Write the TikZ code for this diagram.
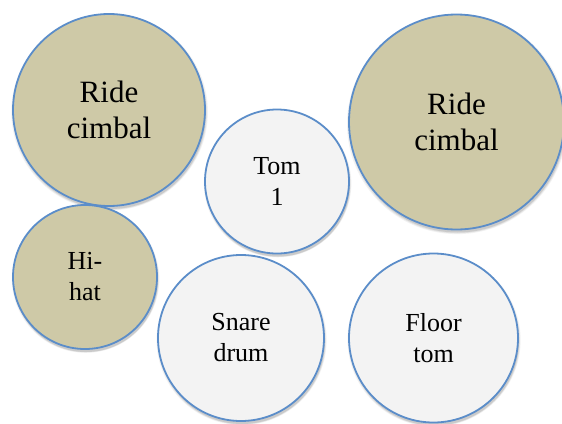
\documentclass[tikz,border=0pt]{standalone}
\usepackage{fontspec}
\setmainfont{Liberation Serif}
\usetikzlibrary{shadows}
\definecolor{cymbalfill}{HTML}{CEC9A7}
\definecolor{drumfill}{HTML}{F3F3F3}
\definecolor{rimblue}{HTML}{5B8DC9}
\tikzset{
  softshadow/.style={
    general shadow={fill=black, opacity=0.10, shadow xshift=1pt, shadow yshift=-3pt},
    general shadow={fill=black, opacity=0.07, shadow xshift=0.8pt, shadow yshift=-2.5pt, shadow scale=1.012},
    general shadow={fill=black, opacity=0.05, shadow xshift=0.6pt, shadow yshift=-2pt, shadow scale=1.024}
  },
  kit/.style={circle, draw=rimblue, line width=1.8pt, inner sep=0pt, align=center, softshadow},
  bigtext/.style={font=\fontsize{31}{36}\selectfont},
  smalltext/.style={font=\fontsize{26}{31}\selectfont},
  cymbal/.style={kit, fill=cymbalfill},
  drum/.style={kit, fill=drumfill}
}
\begin{document}
\begin{tikzpicture}[x=1pt, y=-1pt]
  \useasboundingbox (0,0) rectangle (562,423);
  % cymbals
  \node[cymbal, bigtext, minimum size=192pt] (rideL) at (109,110) {Ride\\cimbal};
  \node[cymbal, bigtext, minimum size=215pt] (rideR) at (456.5,122) {Ride\\cimbal};
  \node[cymbal, smalltext, minimum size=144pt] (hihat) at (85,277) {Hi-\\hat};
  % drums
  \node[drum, smalltext, minimum size=144pt] (tom) at (277,181.5) {Tom\\1};
  \node[drum, smalltext, minimum size=166pt] (snare) at (241,338) {Snare\\drum};
  \node[drum, smalltext, minimum size=169pt] (floor) at (433.5,338) {Floor\\tom};
\end{tikzpicture}
\end{document}
